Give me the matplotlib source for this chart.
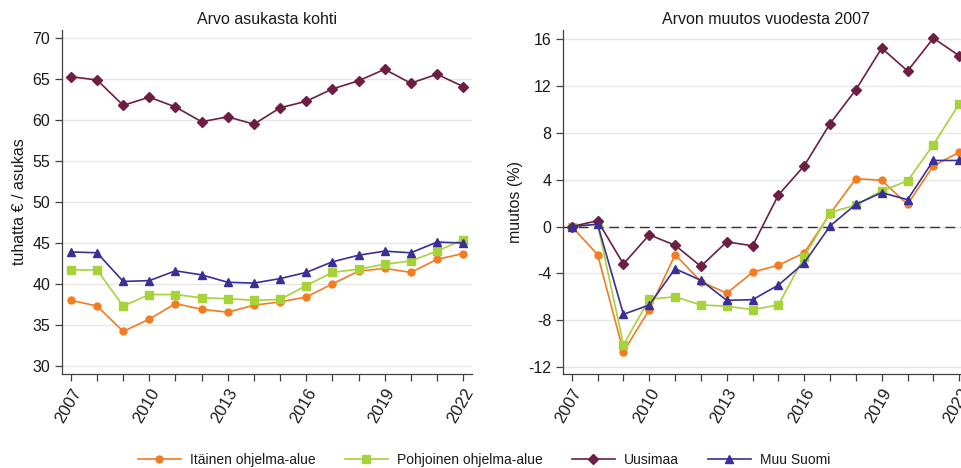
import matplotlib
matplotlib.use("Agg")
import matplotlib.pyplot as plt
from matplotlib.lines import Line2D

years = list(range(2007, 2023))

itainen = [38.0, 37.3, 34.2, 35.7, 37.6, 36.9, 36.55, 37.4, 37.8, 38.4, 40.0, 41.55, 41.9, 41.4, 43.0, 43.7]
pohjoinen = [41.7, 41.7, 37.3, 38.7, 38.7, 38.3, 38.2, 38.0, 38.1, 39.8, 41.4, 41.8, 42.4, 42.8, 44.0, 45.4]
uusimaa = [65.3, 64.9, 61.8, 62.8, 61.6, 59.8, 60.4, 59.5, 61.5, 62.3, 63.8, 64.8, 66.2, 64.5, 65.6, 64.1]
muu_suomi = [43.9, 43.8, 40.3, 40.4, 41.6, 41.1, 40.2, 40.1, 40.65, 41.4, 42.7, 43.5, 44.0, 43.8, 45.1, 45.0]

itainen_chg = [0.0, -2.4, -10.7, -7.1, -2.4, -4.7, -5.7, -3.9, -3.3, -2.25, 1.1, 4.1, 3.95, 1.9, 5.2, 6.35]
pohjoinen_chg = [0.0, 0.2, -10.1, -6.2, -6.0, -6.7, -6.8, -7.1, -6.7, -2.6, 1.2, 1.85, 3.05, 3.9, 7.0, 10.5]
uusimaa_chg = [0.0, 0.5, -3.2, -0.7, -1.6, -3.4, -1.3, -1.65, 2.7, 5.2, 8.8, 11.7, 15.25, 13.3, 16.1, 14.6]
muu_suomi_chg = [0.0, 0.2, -7.5, -6.7, -3.6, -4.6, -6.3, -6.25, -5.0, -3.1, 0.05, 1.9, 2.9, 2.3, 5.65, 5.65]

labels = ["Itäinen ohjelma-alue", "Pohjoinen ohjelma-alue", "Uusimaa", "Muu Suomi"]
colors = ["#F47B20", "#A6D23A", "#6E1E42", "#3A2F96"]
markers = ["o", "s", "D", "^"]
msizes = [5, 5.5, 5, 5.5]

xticks_major = [2007, 2010, 2013, 2016, 2019, 2022]

plt.rcParams['font.family'] = ['Liberation Sans', 'DejaVu Sans']
plt.rcParams['axes.unicode_minus'] = False

fig = plt.figure(figsize=(9.61, 4.68), dpi=100)
W, H = 961, 468

def axes_px(l, t, r, b):
    return fig.add_axes([l / W, 1 - b / H, (r - l) / W, (b - t) / H])

ax1 = axes_px(62, 30, 472, 374)
ax2 = axes_px(563, 30, 968, 374)

def style(ax):
    ax.set_xlim(2007 - 0.34, 2022 + 0.34)
    ax.set_xticks(years, minor=False)
    ax.set_xticklabels([str(y) if y in xticks_major else "" for y in years],
                       rotation=60, ha="right", rotation_mode="anchor", fontsize=12)
    ax.grid(axis="y", color="#E6E6E6", linewidth=1.0)
    ax.set_axisbelow(True)
    for s in ["top", "right"]:
        ax.spines[s].set_visible(False)
    for s in ["left", "bottom"]:
        ax.spines[s].set_color("#404040")
        ax.spines[s].set_linewidth(0.9)
    ax.tick_params(axis="both", colors="#404040", labelcolor="#1a1a1a", length=5, width=0.9)
    ax.tick_params(axis="y", labelsize=11.5)

series1 = [itainen, pohjoinen, uusimaa, muu_suomi]
series2 = [itainen_chg, pohjoinen_chg, uusimaa_chg, muu_suomi_chg]

for vals, c, m, ms in zip(series1, colors, markers, msizes):
    ax1.plot(years, vals, color=c, marker=m, markersize=ms, linewidth=1.2, clip_on=False)
for vals, c, m, ms in zip(series2, colors, markers, msizes):
    ax2.plot(years, vals, color=c, marker=m, markersize=ms, linewidth=1.2)

style(ax1)
style(ax2)

ax1.set_ylim(29.0, 71.0)
ax1.set_yticks([30, 35, 40, 45, 50, 55, 60, 65, 70])
ax1.set_ylabel("tuhatta € / asukas", fontsize=11.5, color="#1a1a1a")
ax1.set_title("Arvo asukasta kohti", fontsize=11.5, color="#1a1a1a", pad=4)

ax2.set_ylim(-12.6, 16.8)
ax2.set_yticks([-12, -8, -4, 0, 4, 8, 12, 16])
ax2.axhline(0, color="#333333", linewidth=1.0, linestyle=(0, (7, 4)), zorder=1)
ax2.set_ylabel("muutos (%)", fontsize=11.5, color="#1a1a1a")
ax2.set_title("Arvon muutos vuodesta 2007", fontsize=11.5, color="#1a1a1a", pad=4)

handles = [Line2D([0], [0], color=c, marker=m, markersize=ms, linewidth=1.2)
           for c, m, ms in zip(colors, markers, msizes)]
fig.legend(handles, labels, loc="center", bbox_to_anchor=(484 / W, 1 - 460 / H),
           ncol=4, frameon=False, fontsize=10, handlelength=3.1, columnspacing=2.1,
           handletextpad=0.65, labelcolor="#1a1a1a")

fig.savefig("out.png", dpi=100)
